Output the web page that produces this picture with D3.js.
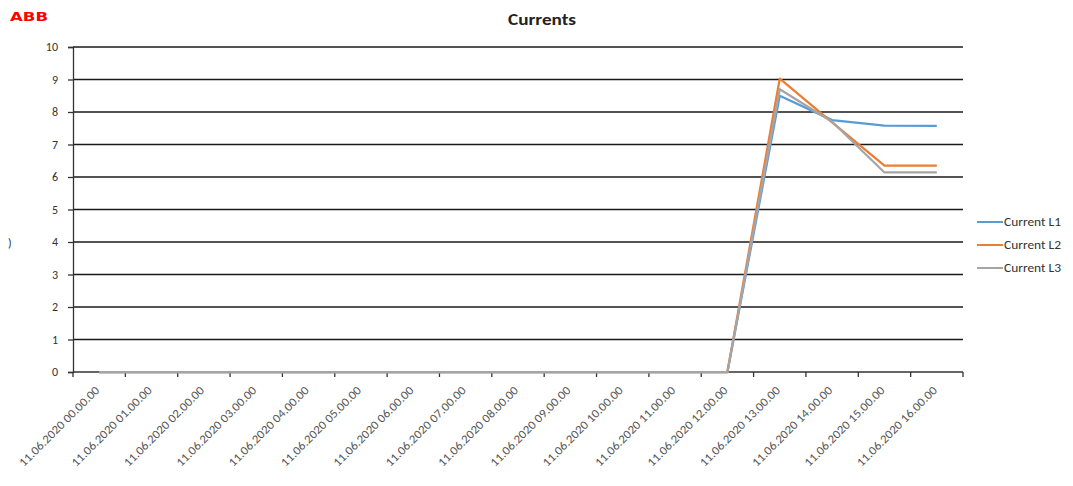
<!DOCTYPE html>
<html>
<head>
<meta charset="utf-8">
<script src="https://cdn.jsdelivr.net/npm/d3@7"></script>
<style>
  body { margin: 0; background: #fff; }
  svg { display: block; font-family: Carlito, Calibri, Lato, "Open Sans", sans-serif; }
</style>
</head>
<body>
<div id="chart"></div>
<script>
// hourly categories
var hours = ["00", "01", "02", "03", "04", "05", "06", "07", "08", "09", "10", "11", "12", "13", "14", "15", "16"];
var categories = hours.map(function(h) { return "11.06.2020 " + h + ".00.00"; });

var currentL1 = [0, 0, 0, 0, 0, 0, 0, 0, 0, 0, 0, 0, 0, 8.5, 7.75, 7.58, 7.57];
var currentL2 = [0, 0, 0, 0, 0, 0, 0, 0, 0, 0, 0, 0, 0, 9.03, 7.68, 6.35, 6.35];
var currentL3 = [0, 0, 0, 0, 0, 0, 0, 0, 0, 0, 0, 0, 0, 8.7, 7.7, 6.14, 6.14];

var seriesNames = ["Current L1", "Current L2", "Current L3"];
var seriesColors = ["#5b9bd5", "#ed7d31", "#a5a5a5"];
var yTicks = [0, 1, 2, 3, 4, 5, 6, 7, 8, 9, 10];

var width = 1073, height = 486;
var margin = {left: 73, right: 110, top: 47, bottom: 114};

var svg = d3.select("#chart").append("svg")
    .attr("width", width)
    .attr("height", height);

var x = d3.scaleBand()
    .domain(categories)
    .range([margin.left, width - margin.right]);

var y = d3.scaleLinear()
    .domain([0, 10])
    .range([height - margin.bottom, margin.top]);

// logo + title
svg.append("text")
    .attr("x", 10).attr("y", 21)
    .attr("fill", "#ff0000")
    .attr("textLength", 38)
    .attr("lengthAdjust", "spacingAndGlyphs")
    .style("font-family", "'DejaVu Sans', sans-serif")
    .style("font-weight", "bold")
    .style("font-size", "13px")
    .text("ABB");

svg.append("text")
    .attr("x", 508).attr("y", 25)
    .attr("fill", "#222")
    .attr("textLength", 68)
    .attr("lengthAdjust", "spacingAndGlyphs")
    .style("font-weight", "bold")
    .style("font-size", "16px")
    .text("Currents");

// leftover bit of the cut y-axis title
svg.append("text")
    .attr("x", 8).attr("y", 247)
    .attr("fill", "#333")
    .style("font-size", "12px")
    .text(")");

// gridlines
svg.append("g")
    .selectAll("line")
    .data(yTicks.filter(function(d) { return d > 0; }))
    .enter().append("line")
    .attr("x1", margin.left)
    .attr("x2", width - margin.right)
    .attr("y1", function(d) { return y(d); })
    .attr("y2", function(d) { return y(d); })
    .attr("stroke", "#1a1a1a")
    .attr("stroke-width", 1.3);

// y axis
var yAxis = svg.append("g")
    .attr("transform", "translate(" + margin.left + ",0)")
    .call(d3.axisLeft(y).tickValues(yTicks).tickSize(5).tickPadding(10).tickFormat(d3.format("d")));
yAxis.select(".domain").attr("stroke", "#333").attr("stroke-width", 1.3);
yAxis.selectAll(".tick line").attr("stroke", "#333").attr("stroke-width", 1.3);
yAxis.selectAll("text")
    .attr("fill", "#333")
    .style("font-size", "12px")
    .style("font-family", "Carlito, Calibri, Lato, sans-serif");

// x axis with ticks between categories
var xAxisG = svg.append("g")
    .attr("transform", "translate(0," + y(0) + ")");
xAxisG.append("line")
    .attr("x1", margin.left).attr("x2", width - margin.right)
    .attr("stroke", "#333").attr("stroke-width", 1.3);
var bounds = categories.map(function(c) { return x(c); }).concat([width - margin.right]);
xAxisG.selectAll(".xt")
    .data(bounds)
    .enter().append("line")
    .attr("class", "xt")
    .attr("x1", function(d) { return d; })
    .attr("x2", function(d) { return d; })
    .attr("y1", 0).attr("y2", 5)
    .attr("stroke", "#333").attr("stroke-width", 1.3);

xAxisG.selectAll(".xl")
    .data(categories)
    .enter().append("text")
    .attr("class", "xl")
    .attr("transform", function(d) {
        return "translate(" + (x(d) + x.bandwidth() / 2 + 1) + ",19) rotate(-45)";
    })
    .attr("text-anchor", "end")
    .attr("fill", "#555")
    .attr("textLength", 108)
    .attr("lengthAdjust", "spacingAndGlyphs")
    .style("font-size", "12px")
    .text(function(d) { return d; });

// lines
var line = d3.line()
    .x(function(d, i) { return x(categories[i]) + x.bandwidth() / 2; })
    .y(function(d) { return y(d); });

var allSeries = [currentL1, currentL2, currentL3];
[0, 1, 2].forEach(function(i) {
    svg.append("path")
        .datum(allSeries[i])
        .attr("fill", "none")
        .attr("stroke", seriesColors[i])
        .attr("stroke-width", 2.25)
        .attr("stroke-linejoin", "round")
        .attr("d", line);
});

// legend
var legend = svg.append("g");
seriesNames.forEach(function(name, i) {
    var ly = 222 + i * 23;
    legend.append("line")
        .attr("x1", 977).attr("x2", 1003)
        .attr("y1", ly).attr("y2", ly)
        .attr("stroke", seriesColors[i])
        .attr("stroke-width", 2);
    legend.append("text")
        .attr("x", 1004).attr("y", ly + 4)
        .attr("fill", "#333")
        .attr("textLength", 57)
        .attr("lengthAdjust", "spacingAndGlyphs")
        .style("font-size", "12px")
        .text(name);
});
</script>
</body>
</html>
